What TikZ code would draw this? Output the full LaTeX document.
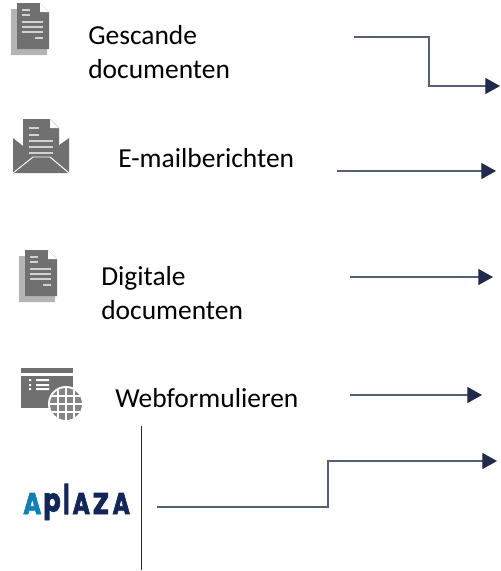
\documentclass[tikz,border=0pt]{standalone}
\usepackage{fontspec}
\usepackage{graphicx}
\setmainfont{Carlito}
\newfontfamily\logofont[BoldFeatures={FakeBold=2.5}]{Poppins}
\usetikzlibrary{arrows.meta}
\definecolor{navy}{HTML}{1F2A4D}
\definecolor{wire}{HTML}{565F7A}
\definecolor{icon}{HTML}{707070}
\definecolor{iconb}{HTML}{B4B4B4}
\definecolor{ablue}{HTML}{0F7FB5}
\definecolor{lnavy}{HTML}{12265A}
\tikzset{
  x=0.75pt,y=-0.75pt,
  lbl/.style={font=\fontsize{20.6pt}{25pt}\selectfont,text=black,inner sep=0pt,anchor=base west},
  conn/.style={draw=wire,line width=0.95pt,-{Triangle[length=11pt,width=12pt,fill=navy,color=navy]}},
  plain/.style={draw=navy,line width=0.75pt},
  stripe/.style={draw=iconb!60!white,line width=1.1pt}
}
\newcommand{\docicon}[2]{%
  \begin{scope}[shift={(#1,#2)}]
    \fill[iconb] (0,6) -- (6,6) -- (6,46) -- (36,46) -- (36,52) -- (0,52) -- cycle;
    \fill[icon] (6,0) -- (29,0) -- (38,9) -- (38,46) -- (6,46) -- cycle;
    \fill[white] (29,0) -- (38,9) -- (29,9) -- cycle;
    \draw[stripe] (11,7) -- (19,7) (11,12) -- (19,12) (11,19) -- (32,19) (11,24) -- (32,24) (11,29) -- (32,29) (24,35) -- (32,35);
  \end{scope}}
% one letter of the logo: colour, left offset, width, height, drop below baseline, letter
\newcommand{\lgl}[6]{\makebox[0pt][l]{\hspace{#2}\textcolor{#1}{\raisebox{-#5}{\resizebox*{#3}{#4}{\raisebox{\depth}{\logofont\bfseries #6}}}}}}
\begin{document}
\begin{tikzpicture}
\useasboundingbox (0,0) rectangle (500,571);
% document icons
\docicon{11}{3}
\docicon{19}{250}
% envelope
\fill[icon] (13,138) -- (23,146) -- (23,152) -- (58,152) -- (58,146) -- (69,138) -- (69,173) -- (13,173) -- cycle;
\fill[icon] (23,119) -- (50,119) -- (59,128) -- (59,155) -- (23,155) -- cycle;
\fill[white] (50,119) -- (59,128) -- (50,128) -- cycle;
\draw[stripe] (29,128) -- (39,128) (29,135) -- (39,135) (29,141) -- (53,141) (29,147) -- (53,147) (29,153) -- (53,153);
\draw[white,line width=0.7pt] (13,173) -- (33,157) -- (50,157) -- (69,173);
% web form icon
\fill[icon] (21,368) rectangle (73,373);
\fill[icon] (21,376) rectangle (73,408);
\fill[white] (29,379) rectangle (31,381) (29,384) rectangle (31,386) (29,388) rectangle (31,390) (36,379) rectangle (49,381) (36,384) rectangle (49,386) (36,388) rectangle (49,390);
\fill[white] (66,404) circle (18);
\fill[icon!85!white] (66,404) circle (16);
\draw[white,line width=0.8pt] (66,388) -- (66,420) (50,404) -- (82,404) (52,396) -- (80,396) (52,412) -- (80,412) (58,390) -- (58,418) (74,390) -- (74,418);
% logo
\node[inner sep=0pt,anchor=base west] (logo) at (23,514) {\lgl{ablue}{0pt}{13.5pt}{15.75pt}{0pt}{A}\lgl{lnavy}{15pt}{13pt}{20pt}{4.5pt}{p}\lgl{lnavy}{30pt}{4.5pt}{22.5pt}{0pt}{l}\lgl{lnavy}{37pt}{13pt}{15.75pt}{0pt}{A}\lgl{lnavy}{52pt}{12.5pt}{15.75pt}{0pt}{Z}\lgl{lnavy}{67pt}{13pt}{15.75pt}{0pt}{A}\phantom{\rule{80pt}{1pt}}};
% labels
\node[lbl] (t1) at (88,44) {Gescande};
\node[lbl] (t1b) at (88,78) {documenten};
\node[lbl] (t2) at (118,167) {E-mailberichten};
\node[lbl] (t3) at (101,285) {Digitale};
\node[lbl] (t3b) at (101,319) {documenten};
\node[lbl] (t4) at (115,407) {Webformulieren};
% connector ends
\coordinate (a1) at (354,37); \coordinate (b1) at (500,86);
\coordinate (a2) at (337,171); \coordinate (b2) at (496,171);
\coordinate (a3) at (350,277); \coordinate (b3) at (493,277);
\coordinate (a4) at (350,395); \coordinate (b4) at (482,395);
\coordinate (a5) at (157,507); \coordinate (b5) at (497,461);
\coordinate (v1) at (141,426); \coordinate (v2) at (141,570);
\draw[conn] (a1) -- (429,37) -- (429,86) -- (b1);
\draw[conn] (a2) -- (b2);
\draw[conn] (a3) -- (b3);
\draw[conn] (a4) -- (b4);
\draw[conn] (a5) -- (328,507) -- (328,461) -- (b5);
\draw[plain] (v1) -- (v2);
\end{tikzpicture}
\end{document}
